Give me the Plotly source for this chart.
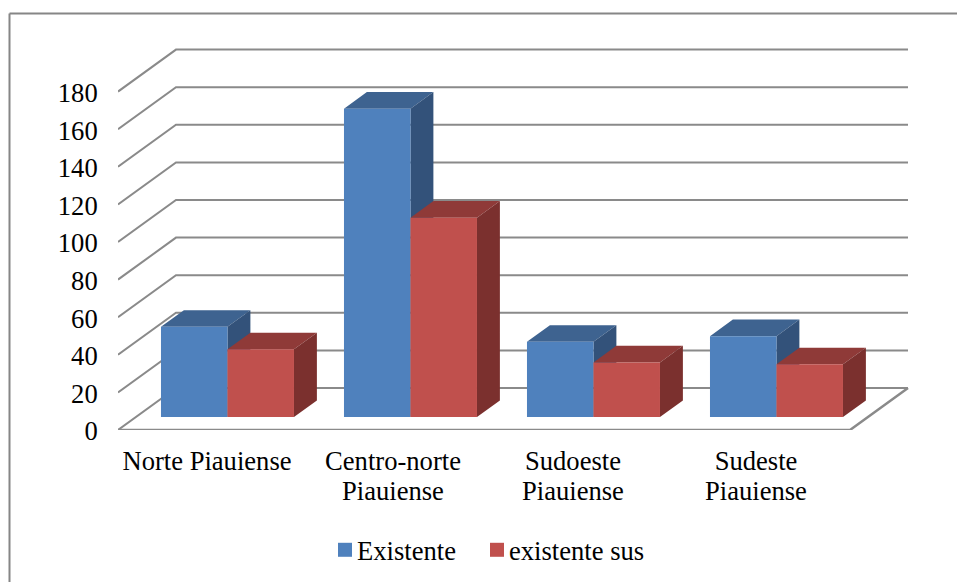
import plotly.graph_objects as go

# Chart data
categories = [("Norte Piauiense",), ("Centro-norte", "Piauiense"), ("Sudoeste", "Piauiense"), ("Sudeste", "Piauiense")]
existente = [48, 164, 40, 43]
existente_sus = [36, 106, 29, 28]
value_ticks = list(range(0, 181, 20))

# Figure size and plot box, in pixels
WIDTH, HEIGHT = 957, 582
LEFT, BOTTOM_Y = 118, 430
PX_PER_CATEGORY = 183.0
PX_PER_UNIT = 1.88

# Oblique projection: one unit of depth moves right and up the floor
DEPTH_DX = 58 / PX_PER_CATEGORY
DEPTH_DY = 42 / PX_PER_UNIT
BAR_FRONT = 0.31
BAR_DEPTH = 0.395
BAR_WIDTH = 66.5 / PX_PER_CATEGORY

GRID = "#8a8a8a"
FONT = dict(family="Liberation Serif", size=26.6, color="#000000")
LABEL_NUDGE_PX = [-2.5, 0.5, -2.5, -2.5]


def project(x, v, d):
    return x + d * DEPTH_DX, v + d * DEPTH_DY


def polygons(faces):
    xs, ys = [], []
    for face in faces:
        pts = [project(*p) for p in face]
        xs += [p[0] for p in pts] + [pts[0][0], None]
        ys += [p[1] for p in pts] + [pts[0][1], None]
    return xs, ys


def face_trace(faces, colour):
    xs, ys = polygons(faces)
    return go.Scatter(
        x=xs, y=ys, mode="lines", fill="toself", fillcolor=colour,
        line=dict(color=colour, width=0), showlegend=False, hoverinfo="skip",
    )


fig = go.Figure()

# Back wall gridlines with their slanted run along the side wall
n = len(categories)
grid_x, grid_y = [], []
for t in value_ticks:
    for x, v, d in [(-0.5, t, 0), (-0.5, t, 1), (n - 0.5, t, 1)]:
        px, py = project(x, v, d)
        grid_x.append(px)
        grid_y.append(py)
    grid_x.append(None)
    grid_y.append(None)
fig.add_trace(go.Scatter(x=grid_x, y=grid_y, mode="lines", line=dict(color=GRID, width=2),
                         showlegend=False, hoverinfo="skip"))

# Front and right edges of the floor
floor = [project(-0.5, 0, 0), project(n - 0.5, 0, 0), project(n - 0.5, 0, 1)]
fig.add_trace(go.Scatter(x=[p[0] for p in floor], y=[p[1] for p in floor], mode="lines",
                         line=dict(color=GRID, width=2.5), showlegend=False, hoverinfo="skip"))

# Extruded columns: blue first so the red fronts cover the blue sides
series = [
    ("Existente", existente, -1, "#4F81BD", "#3E6390", "#33527A", 107),
    ("existente sus", existente_sus, 0, "#C0504D", "#8F3A38", "#7B302E", 140),
]
for name, values, slot, front, top, side, _ in series:
    fronts, tops, sides = [], [], []
    for i, val in enumerate(values):
        x0 = i + slot * BAR_WIDTH
        x1 = x0 + BAR_WIDTH
        d0, d1 = BAR_FRONT, BAR_FRONT + BAR_DEPTH
        fronts.append([(x0, 0, d0), (x1, 0, d0), (x1, val, d0), (x0, val, d0)])
        tops.append([(x0, val, d0), (x1, val, d0), (x1, val, d1), (x0, val, d1)])
        sides.append([(x1, 0, d0), (x1, 0, d1), (x1, val, d1), (x1, val, d0)])
    fig.add_trace(face_trace(tops, top))
    fig.add_trace(face_trace(sides, side))
    fig.add_trace(face_trace(fronts, front))

# Legend entries; the standoff pulls each swatch towards its text
for name, values, slot, front, top, side, entry_w in series:
    fig.add_trace(go.Scatter(x=[None], y=[None], mode="markers", name=name, legendwidth=entry_w,
                             marker=dict(symbol="square", size=14, color=front, angle=90, standoff=8)))

plot_w = WIDTH - LEFT
plot_h = BOTTOM_Y


def paper_x(px):
    return (px - LEFT) / plot_w


def paper_y(py):
    return (BOTTOM_Y - py) / plot_h


# Second lines of the category labels sit closer than the default line height
second_lines = [
    dict(x=i + LABEL_NUDGE_PX[i] / PX_PER_CATEGORY, xref="x", y=paper_y(491), yref="paper",
         text=lines[1], showarrow=False, xanchor="center", yanchor="middle", font=FONT)
    for i, lines in enumerate(categories) if len(lines) > 1
]

fig.update_layout(
    width=WIDTH, height=HEIGHT, autosize=False,
    margin=dict(l=LEFT, r=0, t=0, b=HEIGHT - BOTTOM_Y, pad=0),
    paper_bgcolor="white", plot_bgcolor="white",
    font=FONT,
    xaxis=dict(
        range=[-0.5, -0.5 + plot_w / PX_PER_CATEGORY],
        tickmode="array",
        tickvals=[i + LABEL_NUDGE_PX[i] / PX_PER_CATEGORY for i in range(n)],
        ticktext=[lines[0] for lines in categories],
        tickangle=0,
        showgrid=False, zeroline=False, showline=False,
        ticks="outside", ticklen=7, tickcolor="rgba(0,0,0,0)",
        tickfont=FONT,
    ),
    yaxis=dict(
        range=[0, plot_h / PX_PER_UNIT],
        tickmode="array", tickvals=value_ticks,
        showgrid=False, zeroline=False, showline=False,
        ticks="outside", ticklen=14, tickcolor="rgba(0,0,0,0)",
        ticklabelshift=1,
        tickfont=FONT,
    ),
    showlegend=True,
    legend=dict(
        orientation="h", x=paper_x(317), y=paper_y(526), xanchor="left", yanchor="top",
        font=FONT, bgcolor="rgba(0,0,0,0)", itemclick=False, itemdoubleclick=False,
        tracegroupgap=0,
    ),
    annotations=second_lines,
    shapes=[
        dict(type="line", xref="paper", yref="paper", x0=paper_x(9.5), x1=paper_x(957),
             y0=paper_y(13.5), y1=paper_y(13.5), line=dict(color="#868686", width=2)),
        dict(type="line", xref="paper", yref="paper", x0=paper_x(9.5), x1=paper_x(9.5),
             y0=paper_y(13.5), y1=paper_y(582), line=dict(color="#868686", width=2)),
    ],
)

fig.write_html("out.html")
